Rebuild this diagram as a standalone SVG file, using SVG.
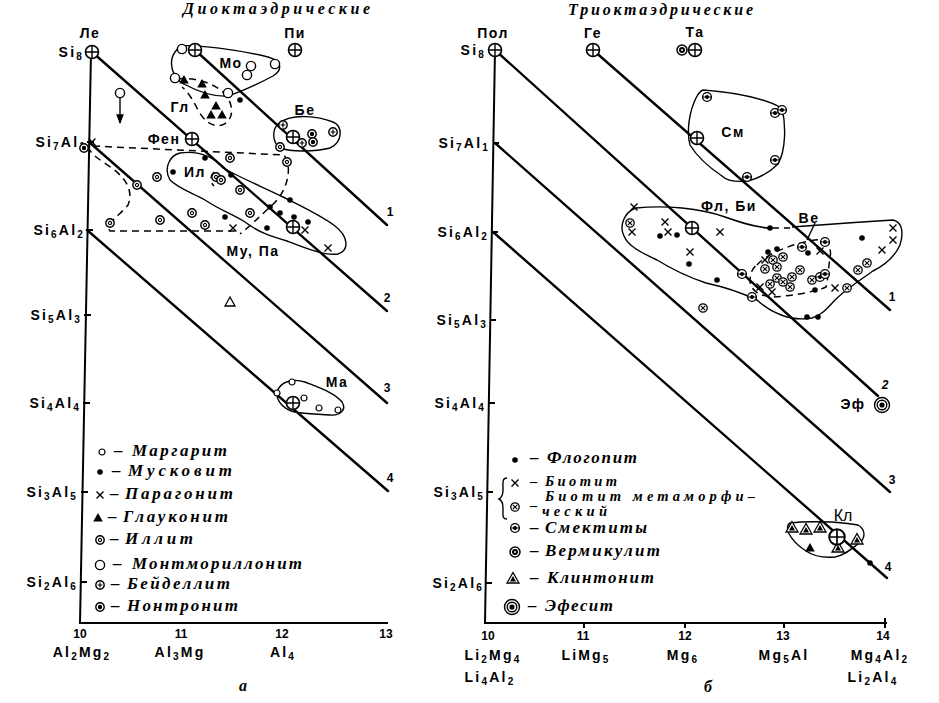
<svg xmlns="http://www.w3.org/2000/svg" width="939" height="703" viewBox="0 0 939 703">
<style>
.ln{stroke:#000;stroke-width:2.4;fill:none;stroke-linecap:round}
.ax{stroke:#000;stroke-width:2;fill:none}
.ct{stroke:#000;stroke-width:1.4;fill:none}
.dc{stroke:#000;stroke-width:1.5;fill:none;stroke-dasharray:7 5}
.lb{font-family:"Liberation Sans",Arial,sans-serif;font-size:14px;font-weight:bold;letter-spacing:1.5px;fill:#000}
.al{font-family:"Liberation Sans",Arial,sans-serif;font-size:14px;font-weight:bold;letter-spacing:2.2px;fill:#000}
.s{font-size:10px}
.num{font-family:"Liberation Sans",Arial,sans-serif;font-size:12px;font-weight:bold;fill:#000}
.lg{font-family:"Liberation Serif","Times New Roman",serif;font-style:italic;font-weight:bold;font-size:17px;fill:#000}
.lg2{font-family:"Liberation Serif","Times New Roman",serif;font-style:italic;font-weight:bold;font-size:14.5px;fill:#000}
.tt{font-family:"Liberation Serif","Times New Roman",serif;font-style:italic;font-weight:bold;font-size:16px;fill:#000}
</style>
<defs>
<g id="pl"><circle r="6.5" fill="#fff" stroke="#000" stroke-width="1.6"/><path d="M-6.5,0H6.5M0,-6.5V6.5" stroke="#000" stroke-width="1.4"/></g>
<circle id="oc" r="4.6" fill="#fff" stroke="#000" stroke-width="1.4"/>
<circle id="sc" r="3" fill="#fff" stroke="#000" stroke-width="1.2"/>
<circle id="dt" r="2.8" fill="#000"/>
<path id="xx" d="M-3.5,-3.5L3.5,3.5M-3.5,3.5L3.5,-3.5" stroke="#000" stroke-width="1.4"/>
<path id="tr" d="M0,-5L4.8,3.5H-4.8Z" fill="#000"/>
<g id="il"><circle r="4.2" fill="#fff" stroke="#000" stroke-width="1.4"/><circle r="1.6" fill="none" stroke="#000" stroke-width="1.1"/></g>
<g id="bd"><circle r="4.2" fill="#fff" stroke="#000" stroke-width="1.4"/><path d="M-2.4,0H2.4M0,-2.4V2.4" stroke="#000" stroke-width="1.2"/></g>
<g id="nt"><circle r="4.2" fill="#fff" stroke="#000" stroke-width="1.4"/><circle r="2.2" fill="#000"/></g>
<g id="bm"><circle r="4.2" fill="#fff" stroke="#000" stroke-width="1.3"/><path d="M-2.2,-2.2L2.2,2.2M-2.2,2.2L2.2,-2.2" stroke="#000" stroke-width="1.1"/></g>
<g id="sm"><circle r="4.4" fill="#fff" stroke="#000" stroke-width="1.4"/><circle r="2" fill="#000"/><path d="M-4,0H4" stroke="#000" stroke-width="1"/></g>
<g id="vm"><circle r="5" fill="#fff" stroke="#000" stroke-width="1.5"/><circle r="3" fill="#000"/><circle r="1" fill="#fff"/></g>
<g id="cl"><path d="M0,-6.5L6,4H-6Z" fill="#fff" stroke="#000" stroke-width="1.3"/><path d="M0,-3L3,2.5H-3Z" fill="#000"/></g>
<g id="ef"><circle r="7.5" fill="#fff" stroke="#000" stroke-width="1.4"/><circle r="4.8" fill="none" stroke="#000" stroke-width="1.4"/><circle r="2.6" fill="#000"/></g>
<marker id="ah" viewBox="0 0 10 10" refX="9" refY="5" markerWidth="7" markerHeight="7" orient="auto"><path d="M0,1L10,5L0,9Z" fill="#000"/></marker>
</defs>
<rect width="939" height="703" fill="#fff"/>

<!-- ===== LEFT PANEL ===== -->
<g id="left-axes">
<path class="ax" d="M91,52L80,623L388,623"/>
<path class="ax" d="M87,142H94M86,230H93M84,315H91M83,403H90M81,492H88M80,582H87"/>
</g>
<g id="left-axis-labels">
<text class="tt" x="183" y="14" textLength="187" lengthAdjust="spacing">Диоктаэдрические</text>
<text class="al" x="84" y="57" text-anchor="end">Si<tspan class="s" dy="3">8</tspan></text>
<text class="al" x="87" y="147" text-anchor="end">Si<tspan class="s" dy="3">7</tspan><tspan dy="-3">Al</tspan><tspan class="s" dy="3">1</tspan></text>
<text class="al" x="85" y="235" text-anchor="end">Si<tspan class="s" dy="3">6</tspan><tspan dy="-3">Al</tspan><tspan class="s" dy="3">2</tspan></text>
<text class="al" x="82" y="320" text-anchor="end">Si<tspan class="s" dy="3">5</tspan><tspan dy="-3">Al</tspan><tspan class="s" dy="3">3</tspan></text>
<text class="al" x="81" y="408" text-anchor="end">Si<tspan class="s" dy="3">4</tspan><tspan dy="-3">Al</tspan><tspan class="s" dy="3">4</tspan></text>
<text class="al" x="78" y="497" text-anchor="end">Si<tspan class="s" dy="3">3</tspan><tspan dy="-3">Al</tspan><tspan class="s" dy="3">5</tspan></text>
<text class="al" x="78" y="587" text-anchor="end">Si<tspan class="s" dy="3">2</tspan><tspan dy="-3">Al</tspan><tspan class="s" dy="3">6</tspan></text>
<text class="num" x="80" y="638" text-anchor="middle">10</text>
<text class="num" x="181" y="638" text-anchor="middle">11</text>
<text class="num" x="282" y="638" text-anchor="middle">12</text>
<text class="num" x="386" y="638" text-anchor="middle">13</text>
<text class="al" x="82" y="657" text-anchor="middle">Al<tspan class="s" dy="3">2</tspan><tspan dy="-3">Mg</tspan><tspan class="s" dy="3">2</tspan></text>
<text class="al" x="180" y="657" text-anchor="middle">Al<tspan class="s" dy="3">3</tspan><tspan dy="-3">Mg</tspan></text>
<text class="al" x="283" y="657" text-anchor="middle">Al<tspan class="s" dy="3">4</tspan></text>
<text class="tt" x="243" y="691" text-anchor="middle" font-size="17">а</text>
</g>
<g id="left-connectors">
<path class="ln" d="M195,50L387,225"/>
<path class="ln" d="M92,52L387,311"/>
<path class="ln" d="M89,142L387,403"/>
<path class="ln" d="M87,230L388,491"/>
<path class="ct" d="M120,98V123" marker-end="url(#ah)"/>
</g>
<g id="left-regions">
<path class="ct" d="M180,46C195,44 240,50 268,57C282,61 283,70 273,76C258,84 240,92 228,96C212,97 195,90 184,84C172,78 168,62 175,52Z"/>
<path class="dc" d="M177,79C195,77 215,83 226,95C234,106 234,121 222,125C210,128 202,118 197,108C193,100 188,92 182,87"/>
<path class="ct" d="M278,124C292,112 320,117 333,122C343,126 343,142 330,148C315,152 290,152 280,148C272,142 272,130 278,124Z"/>
<path class="ct" d="M180,153C195,151 210,153 223,168C245,180 265,188 283,197C305,208 322,216 335,226C348,236 350,250 338,254C325,256 305,248 287,241C270,236 258,232 245,222C232,214 220,210 205,200C190,192 178,188 170,180C164,170 168,156 180,153Z"/>
<path class="dc" d="M93,146L284,155C292,165 290,190 270,207C258,218 248,228 240,234M235,231L110,231C104,225 120,215 128,205C134,190 125,178 112,168C100,160 92,155 90,150"/>
<path class="dc" d="M214,172C210,176 210,182 214,186"/>
<path class="ct" d="M277,392C280,382 292,378 305,382C320,388 335,393 342,402C347,410 340,416 330,415C318,414 305,414 295,412C285,410 276,402 277,392Z"/>
</g>
<g id="left-points">
<use href="#pl" x="92" y="52"/>
<use href="#oc" x="182" y="49"/><use href="#pl" x="195" y="50"/><use href="#pl" x="295" y="50"/>
<use href="#oc" x="275" y="64"/><use href="#oc" x="251" y="66"/><use href="#oc" x="247" y="75"/>
<use href="#oc" x="175" y="78"/><use href="#oc" x="228" y="93"/><use href="#dt" x="240" y="100"/>
<use href="#oc" x="120" y="93"/>
<use href="#tr" x="184" y="80"/><use href="#tr" x="202" y="84"/><use href="#tr" x="205" y="95"/>
<use href="#tr" x="216" y="106"/><use href="#tr" x="211" y="115"/><use href="#tr" x="222" y="115"/>
<use href="#bd" x="283" y="125"/><use href="#bd" x="333" y="132"/><use href="#nt" x="312" y="134"/>
<use href="#nt" x="313" y="142"/><use href="#bd" x="302" y="143"/><use href="#il" x="280" y="147"/>
<use href="#pl" x="293" y="137"/>
<use href="#pl" x="192" y="139"/>
<use href="#xx" x="92" y="142"/><use href="#nt" x="84" y="148"/>
<use href="#dt" x="205" y="158"/><use href="#il" x="230" y="158"/><use href="#il" x="287" y="162"/>
<use href="#dt" x="173" y="172"/><use href="#il" x="157" y="177"/><use href="#il" x="137" y="185"/>
<use href="#il" x="216" y="177"/><use href="#il" x="221" y="180"/><use href="#dt" x="231" y="175"/>
<use href="#il" x="240" y="190"/><use href="#il" x="110" y="223"/><use href="#il" x="160" y="220"/>
<use href="#il" x="192" y="213"/><use href="#il" x="205" y="225"/><use href="#dt" x="225" y="217"/>
<use href="#il" x="250" y="213"/><use href="#dt" x="270" y="207"/><use href="#dt" x="280" y="213"/>
<use href="#dt" x="290" y="200"/><use href="#dt" x="294" y="217"/><use href="#dt" x="308" y="222"/>
<use href="#dt" x="267" y="228"/><use href="#pl" x="293" y="227"/><use href="#xx" x="305" y="230"/>
<use href="#xx" x="233" y="228"/><use href="#xx" x="328" y="248"/>
<path d="M230,297L235,306H225Z" fill="#fff" stroke="#000" stroke-width="1.3"/>
<use href="#sc" x="277" y="393"/><use href="#sc" x="292" y="382"/><use href="#sc" x="304" y="398"/>
<use href="#sc" x="319" y="408"/><use href="#sc" x="338" y="410"/>
<use href="#pl" x="293" y="403"/>
</g>
<g id="left-labels">
<text class="lb" x="90" y="38" text-anchor="middle">Ле</text>
<text class="lb" x="295" y="38" text-anchor="middle">Пи</text>
<text class="lb" x="231" y="68" text-anchor="middle">Мо</text>
<text class="lb" x="180" y="112" text-anchor="middle">Гл</text>
<text class="lb" x="305" y="115" text-anchor="middle">Бе</text>
<text class="lb" x="164" y="144" text-anchor="middle">Фен</text>
<text class="lb" x="195" y="177" text-anchor="middle">Ил</text>
<text class="lb" x="253" y="256" text-anchor="middle">Му, Па</text>
<text class="lb" x="337" y="387" text-anchor="middle">Ма</text>
<text class="num" x="390" y="216" text-anchor="middle">1</text>
<text class="num" x="387" y="302" text-anchor="middle">2</text>
<text class="num" x="387" y="392" text-anchor="middle">3</text>
<text class="num" x="390" y="482" text-anchor="middle">4</text>
</g>
<g id="left-legend">
<use href="#sc" x="102" y="452"/><use href="#dt" x="100" y="472"/><use href="#xx" x="100" y="495"/>
<use href="#tr" x="98" y="518"/><use href="#il" x="100" y="540"/><use href="#oc" x="100" y="565"/>
<use href="#bd" x="100" y="585"/><use href="#nt" x="100" y="607"/>
<text class="lg" x="114" y="456">–</text><text class="lg" x="132" y="456" textLength="95" lengthAdjust="spacing">Маргарит</text>
<text class="lg" x="112" y="476">–</text><text class="lg" x="128" y="476" textLength="104" lengthAdjust="spacing">Мусковит</text>
<text class="lg" x="110" y="499">–</text><text class="lg" x="125" y="499" textLength="108" lengthAdjust="spacing">Парагонит</text>
<text class="lg" x="108" y="522">–</text><text class="lg" x="123" y="522" textLength="105" lengthAdjust="spacing">Глауконит</text>
<text class="lg" x="110" y="544">–</text><text class="lg" x="125" y="544" textLength="68" lengthAdjust="spacing">Иллит</text>
<text class="lg" x="113" y="569">–</text><text class="lg" x="132" y="569" textLength="170" lengthAdjust="spacing">Монтмориллонит</text>
<text class="lg" x="111" y="589">–</text><text class="lg" x="127" y="589" textLength="103" lengthAdjust="spacing">Бейделлит</text>
<text class="lg" x="111" y="611">–</text><text class="lg" x="127" y="611" textLength="111" lengthAdjust="spacing">Нонтронит</text>
</g>

<!-- ===== RIGHT PANEL ===== -->
<g id="right-axes">
<path class="ax" d="M495,50L485,623L887,623"/>
<path class="ax" d="M493,143H499M492,232H498M490,320H496M489,403H495M487,492H493M486,583H492"/>
<path class="ax" d="M584,623V628M685,623V628M784,623V628M885,618V628"/>
</g>
<g id="right-axis-labels">
<text class="tt" x="568" y="15" textLength="185" lengthAdjust="spacing">Триоктаэдрические</text>
<text class="al" x="486" y="55" text-anchor="end">Si<tspan class="s" dy="3">8</tspan></text>
<text class="al" x="490" y="148" text-anchor="end">Si<tspan class="s" dy="3">7</tspan><tspan dy="-3">Al</tspan><tspan class="s" dy="3">1</tspan></text>
<text class="al" x="489" y="237" text-anchor="end">Si<tspan class="s" dy="3">6</tspan><tspan dy="-3">Al</tspan><tspan class="s" dy="3">2</tspan></text>
<text class="al" x="488" y="325" text-anchor="end">Si<tspan class="s" dy="3">5</tspan><tspan dy="-3">Al</tspan><tspan class="s" dy="3">3</tspan></text>
<text class="al" x="486" y="408" text-anchor="end">Si<tspan class="s" dy="3">4</tspan><tspan dy="-3">Al</tspan><tspan class="s" dy="3">4</tspan></text>
<text class="al" x="485" y="497" text-anchor="end">Si<tspan class="s" dy="3">3</tspan><tspan dy="-3">Al</tspan><tspan class="s" dy="3">5</tspan></text>
<text class="al" x="484" y="588" text-anchor="end">Si<tspan class="s" dy="3">2</tspan><tspan dy="-3">Al</tspan><tspan class="s" dy="3">6</tspan></text>
<text class="num" x="488" y="640" text-anchor="middle">10</text>
<text class="num" x="583" y="640" text-anchor="middle">11</text>
<text class="num" x="685" y="640" text-anchor="middle">12</text>
<text class="num" x="783" y="640" text-anchor="middle">13</text>
<text class="num" x="883" y="640" text-anchor="middle">14</text>
<text class="al" x="493" y="660" text-anchor="middle">Li<tspan class="s" dy="3">2</tspan><tspan dy="-3">Mg</tspan><tspan class="s" dy="3">4</tspan></text>
<text class="al" x="490" y="682" text-anchor="middle">Li<tspan class="s" dy="3">4</tspan><tspan dy="-3">Al</tspan><tspan class="s" dy="3">2</tspan></text>
<text class="al" x="586" y="660" text-anchor="middle">LiMg<tspan class="s" dy="3">5</tspan></text>
<text class="al" x="683" y="660" text-anchor="middle">Mg<tspan class="s" dy="3">6</tspan></text>
<text class="al" x="784" y="660" text-anchor="middle">Mg<tspan class="s" dy="3">5</tspan><tspan dy="-3">Al</tspan></text>
<text class="al" x="880" y="660" text-anchor="middle">Mg<tspan class="s" dy="3">4</tspan><tspan dy="-3">Al</tspan><tspan class="s" dy="3">2</tspan></text>
<text class="al" x="873" y="682" text-anchor="middle">Li<tspan class="s" dy="3">2</tspan><tspan dy="-3">Al</tspan><tspan class="s" dy="3">4</tspan></text>
<text class="tt" x="708" y="692" text-anchor="middle" font-size="17">б</text>
</g>
<g id="right-connectors">
<path class="ln" d="M593,50L890,310"/>
<path class="ln" d="M495,50L878,396"/>
<path class="ln" d="M495,143L890,492"/>
<path class="ln" d="M493,232L887,578"/>
</g>
<g id="right-regions">
<path class="ct" d="M703,90C730,92 760,96 782,108C786,125 786,150 778,164C770,172 760,178 748,181C738,182 728,182 722,176C710,168 698,158 690,145C686,130 690,110 696,98C698,94 700,91 703,90Z"/>
<path class="ct" d="M636,208C665,205 700,208 725,217C745,224 758,228 770,228"/>
<path class="dc" d="M772,228H790"/>
<path class="ct" d="M792,227C820,225 860,222 893,220C902,222 904,232 900,245C895,256 885,265 873,271C860,280 845,290 835,300C826,310 820,316 812,318C790,322 770,312 757,300C740,292 720,286 706,283C685,276 670,268 657,260C640,252 628,246 624,236C619,226 624,212 636,208"/>
<path class="dc" d="M757,265C765,255 790,244 815,240C828,238 832,248 830,258C828,270 828,280 826,287C815,292 790,296 773,297C760,296 752,292 750,282C750,274 752,268 757,265Z"/>
<path class="ct" d="M815,223L807,240"/>
<path class="ct" d="M790,523C805,521 835,521 858,525C866,530 866,538 858,544C850,550 843,556 835,557C825,558 815,557 806,551C798,546 792,540 788,532C787,527 788,524 790,523Z"/>
</g>
<g id="right-points">
<use href="#pl" x="495" y="50"/><use href="#pl" x="593" y="50"/>
<use href="#vm" x="682" y="50"/><use href="#pl" x="695" y="50"/>
<use href="#sm" x="707" y="97"/><use href="#sm" x="775" y="113"/><use href="#sm" x="782" y="110"/>
<use href="#sm" x="775" y="160"/><use href="#sm" x="747" y="177"/>
<use href="#pl" x="697" y="138"/>
<use href="#xx" x="634" y="207"/><use href="#bm" x="630" y="223"/><use href="#xx" x="632" y="232"/>
<use href="#xx" x="665" y="222"/><use href="#xx" x="668" y="232"/><use href="#dt" x="660" y="236"/>
<use href="#dt" x="677" y="235"/><use href="#pl" x="692" y="228"/><use href="#xx" x="720" y="232"/>
<use href="#xx" x="690" y="252"/><use href="#dt" x="689" y="264"/><use href="#dt" x="717" y="280"/>
<use href="#sm" x="742" y="274"/><use href="#dt" x="770" y="228"/><use href="#dt" x="862" y="238"/>
<use href="#xx" x="893" y="228"/><use href="#xx" x="893" y="240"/><use href="#xx" x="882" y="250"/>
<use href="#bm" x="867" y="263"/><use href="#bm" x="858" y="270"/><use href="#xx" x="835" y="288"/>
<use href="#bm" x="847" y="288"/><use href="#sm" x="752" y="297"/><use href="#bm" x="703" y="308"/>
<use href="#dt" x="807" y="317"/><use href="#dt" x="818" y="317"/>
<use href="#sm" x="802" y="247"/><use href="#dt" x="808" y="253"/><use href="#sm" x="825" y="242"/>
<use href="#xx" x="820" y="251"/><use href="#dt" x="768" y="252"/><use href="#dt" x="777" y="249"/>
<use href="#xx" x="765" y="260"/><use href="#bm" x="773" y="260"/><use href="#bm" x="783" y="257"/>
<use href="#bm" x="765" y="269"/><use href="#bm" x="777" y="267"/><use href="#bm" x="800" y="270"/>
<use href="#bm" x="792" y="277"/><use href="#bm" x="777" y="278"/><use href="#bm" x="770" y="284"/>
<use href="#bm" x="790" y="287"/><use href="#bm" x="783" y="282"/><use href="#xx" x="760" y="287"/>
<use href="#xx" x="772" y="292"/><use href="#bm" x="812" y="280"/><use href="#sm" x="820" y="277"/>
<use href="#sm" x="825" y="274"/><use href="#dt" x="815" y="290"/>
<use href="#ef" x="882" y="405"/>
<use href="#cl" x="792" y="528"/><use href="#cl" x="806" y="530"/><use href="#cl" x="820" y="528"/>
<use href="#tr" x="810" y="548"/><use href="#cl" x="838" y="548"/><use href="#cl" x="857" y="540"/>
<use href="#dt" x="870" y="563"/>
<g transform="translate(837,537) scale(1.2)"><use href="#pl"/></g>
</g>
<g id="right-labels">
<text class="lb" x="493" y="38" text-anchor="middle">Пол</text>
<text class="lb" x="593" y="38" text-anchor="middle">Ге</text>
<text class="lb" x="695" y="37" text-anchor="middle">Та</text>
<text class="lb" x="733" y="137" text-anchor="middle" letter-spacing="3">См</text>
<text class="lb" x="729" y="211" text-anchor="middle">Фл, Би</text>
<text class="lb" x="809" y="223" text-anchor="middle">Ве</text>
<text class="lb" x="853" y="409" text-anchor="middle">Эф</text>
<text x="843" y="521" text-anchor="middle" font-family="Liberation Sans, Arial, sans-serif" font-size="16">Кл</text>
<text class="num" x="892" y="301" text-anchor="middle">1</text>
<text class="num" x="885" y="389" text-anchor="middle" font-style="italic">2</text>
<text class="num" x="892" y="484" text-anchor="middle">3</text>
<text class="num" x="888" y="571" text-anchor="middle">4</text>
</g>
<g id="right-legend">
<use href="#dt" x="515" y="460"/><use href="#xx" x="515" y="483"/><use href="#bm" x="515" y="507"/>
<use href="#sm" x="515" y="528"/><use href="#vm" x="515" y="552"/><use href="#cl" x="513" y="579"/>
<use href="#ef" x="512" y="607"/>
<path class="ct" d="M507,478C502,478 503,482 503,490C503,496 501,498 499,499C501,500 503,502 503,508C503,516 502,519 507,519"/>
<text class="lg" x="530" y="463">–</text><text class="lg" x="547" y="463" textLength="90" lengthAdjust="spacing">Флогопит</text>
<text class="lg2" x="530" y="486">–</text><text class="lg2" x="545" y="486" textLength="72" lengthAdjust="spacing">Биотит</text>
<text class="lg2" x="530" y="510">–</text><text class="lg2" x="545" y="501" textLength="210" lengthAdjust="spacing">Биотит метаморфи–</text>
<text class="lg2" x="542" y="516" textLength="65" lengthAdjust="spacing">ческий</text>
<text class="lg" x="530" y="533">–</text><text class="lg" x="545" y="533" textLength="102" lengthAdjust="spacing">Смектиты</text>
<text class="lg" x="530" y="556">–</text><text class="lg" x="545" y="556" textLength="115" lengthAdjust="spacing">Вермикулит</text>
<text class="lg" x="530" y="583">–</text><text class="lg" x="547" y="583" textLength="107" lengthAdjust="spacing">Клинтонит</text>
<text class="lg" x="528" y="611">–</text><text class="lg" x="545" y="611" textLength="68" lengthAdjust="spacing">Эфесит</text>
</g>
</svg>
